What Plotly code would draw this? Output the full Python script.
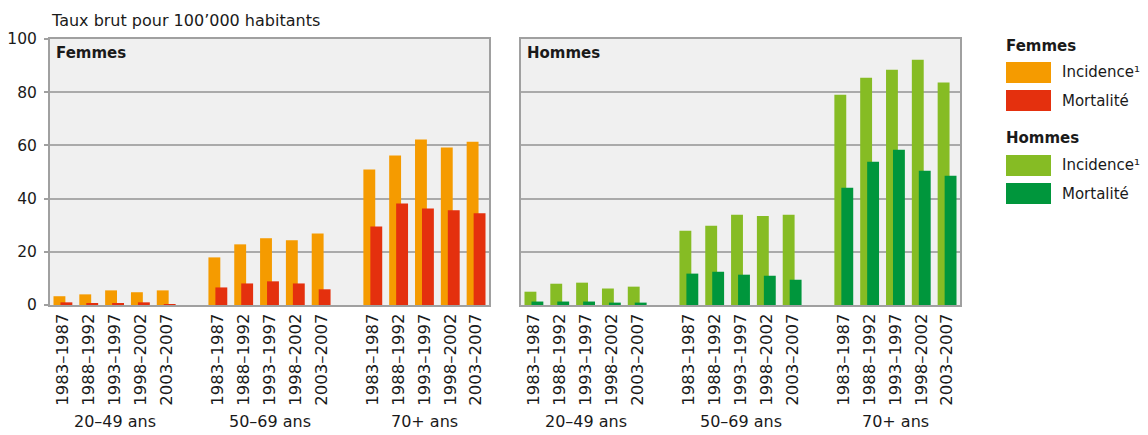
import plotly.graph_objects as go

periods = ["1983–1987", "1988–1992", "1993–1997", "1998–2002", "2003–2007"]
age_groups = ["20–49 ans", "50–69 ans", "70+ ans"]

femmes_incidence = [3.3, 4.0, 5.5, 4.8, 5.5,
                    17.9, 22.8, 25.1, 24.3, 26.9,
                    50.9, 56.2, 62.2, 59.2, 61.4]
femmes_mortalite = [1.0, 0.6, 0.6, 1.0, 0.3,
                    6.6, 8.1, 8.9, 8.1, 5.9,
                    29.5, 38.2, 36.3, 35.6, 34.5]
hommes_incidence = [5.0, 8.0, 8.4, 6.2, 6.9,
                    27.9, 29.8, 33.9, 33.5, 33.9,
                    79.0, 85.4, 88.4, 92.2, 83.6]
hommes_mortalite = [1.3, 1.3, 1.3, 0.9, 0.9,
                    11.8, 12.5, 11.4, 11.0, 9.5,
                    44.1, 53.9, 58.4, 50.5, 48.6]

col_f_inc = "#F59B00"
col_f_mort = "#E4300E"
col_h_inc = "#86BC24"
col_h_mort = "#00963C"

FONT = "DejaVu Sans"
# the page body has an 8px margin; keep the figure inside the window
OX, OY = 8, 8
W, H = 1148 - 2 * OX, 435 - OY


def px(x):
    return (x - OX) / W


def py(y):
    return (H - (y - OY)) / H


# slot positions: 5 periods per age group, one empty slot between groups
slots = []
tick_text = []
for g in range(len(age_groups)):
    for p in range(len(periods)):
        slots.append(g * 6 + p)
        tick_text.append(periods[p])

fig = go.Figure()


def add_panel(inc, mort, c_inc, c_mort, xa, ya):
    fig.add_trace(go.Bar(x=slots, y=inc, marker=dict(color=c_inc, line=dict(width=0)),
                         width=0.46, offset=-0.365, xaxis=xa, yaxis=ya,
                         showlegend=False, hoverinfo="y"))
    fig.add_trace(go.Bar(x=slots, y=mort, marker=dict(color=c_mort, line=dict(width=0)),
                         width=0.46, offset=-0.095, xaxis=xa, yaxis=ya,
                         showlegend=False, hoverinfo="y"))


add_panel(femmes_incidence, femmes_mortalite, col_f_inc, col_f_mort, "x", "y")
add_panel(hommes_incidence, hommes_mortalite, col_h_inc, col_h_mort, "x2", "y2")

ydom = [py(305), py(39)]
xdom1 = [px(50), px(489)]
xdom2 = [px(521), px(960)]

grid_col = "#AAAAAA"
line_col = "#A0A0A0"

xaxis_common = dict(range=[-0.5, 16.5], tickmode="array", tickvals=slots, ticktext=tick_text,
                    tickangle=-90, showgrid=False, zeroline=False, showline=True, mirror=True,
                    linecolor=line_col, linewidth=2, ticks="", automargin=False,
                    tickfont=dict(family=FONT, size=16.5, color="#1a1a1a"), fixedrange=True)
yaxis_common = dict(range=[0, 100], tickvals=[0, 20, 40, 60, 80, 100], showgrid=True,
                    gridcolor=grid_col, gridwidth=1.5, zeroline=False, showline=True, mirror=True,
                    linecolor=line_col, linewidth=2, automargin=False,
                    tickfont=dict(family=FONT, size=15.5, color="#1a1a1a"), fixedrange=True)

fig.update_layout(
    width=W, height=H,
    margin=dict(l=0, r=0, t=0, b=0),
    paper_bgcolor="white",
    plot_bgcolor="#F0F0F0",
    barmode="overlay",
    font=dict(family=FONT, size=16, color="#1a1a1a"),
    xaxis=dict(domain=xdom1, anchor="y", **xaxis_common),
    xaxis2=dict(domain=xdom2, anchor="y2", **xaxis_common),
    yaxis=dict(domain=ydom, anchor="x", ticks="outside", ticklen=4, tickcolor=line_col,
               tickwidth=1.5, ticklabelstandoff=4, **yaxis_common),
    yaxis2=dict(domain=ydom, anchor="x2", ticks="", showticklabels=False, **yaxis_common),
    showlegend=False,
)

annotations = []
# y-axis title
annotations.append(dict(text="Taux brut pour 100’000 habitants", x=px(49), y=py(20),
                        xref="paper", yref="paper", xanchor="left", yanchor="middle",
                        showarrow=False, font=dict(family=FONT, size=16)))
# panel titles
for xr, title in [("x domain", "Femmes"), ("x2 domain", "Hommes")]:
    annotations.append(dict(text="<b>" + title + "</b>", x=0.01, y=0.99, xref=xr,
                            yref="y domain", xanchor="left", yanchor="top", showarrow=False,
                            font=dict(family=FONT, size=15)))
# age group labels
for xa in ["x", "x2"]:
    for g, lab in enumerate(age_groups):
        annotations.append(dict(text=lab, x=g * 6 + 2, y=py(421), xref=xa, yref="paper",
                                xanchor="center", yanchor="middle", showarrow=False,
                                font=dict(family=FONT, size=16)))

# custom legend
shapes = []
legend_blocks = [
    ("Femmes", 46, [(col_f_inc, "Incidence¹", 62), (col_f_mort, "Mortalité", 90)]),
    ("Hommes", 138, [(col_h_inc, "Incidence¹", 155), (col_h_mort, "Mortalité", 183)]),
]
for title, ty, items in legend_blocks:
    annotations.append(dict(text="<b>" + title + "</b>", x=px(1004), y=py(ty), xref="paper",
                            yref="paper", xanchor="left", yanchor="middle", showarrow=False,
                            font=dict(family=FONT, size=15)))
    for col, lab, sy in items:
        shapes.append(dict(type="rect", xref="paper", yref="paper", x0=px(1006), x1=px(1051),
                           y0=py(sy + 21), y1=py(sy), fillcolor=col,
                           line=dict(width=0)))
        annotations.append(dict(text=lab, x=px(1060), y=py(sy + 10.5), xref="paper",
                                yref="paper", xanchor="left", yanchor="middle", showarrow=False,
                                font=dict(family=FONT, size=15)))

fig.update_layout(annotations=annotations, shapes=shapes)

fig.write_html("out.html")
